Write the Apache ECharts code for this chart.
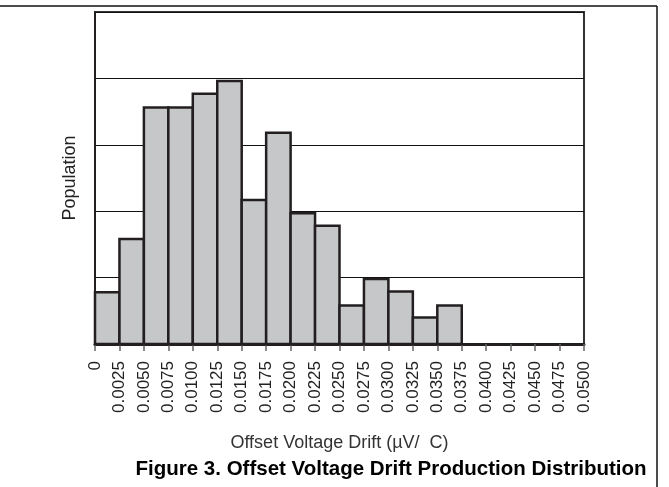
<!DOCTYPE html>
<html>
<head>
<meta charset="utf-8">
<script src="https://cdn.jsdelivr.net/npm/echarts@6/dist/echarts.min.js"></script>
<style>html,body{margin:0;padding:0;background:#fff;}#c{width:669px;height:487px;}</style>
</head>
<body>
<div id="c"></div>
<script>
// Bin edge tick labels (µV/°C)
var tickLabels = ['0','0.0025','0.0050','0.0075','0.0100','0.0125','0.0150','0.0175','0.0200','0.0225',
  '0.0250','0.0275','0.0300','0.0325','0.0350','0.0375','0.0400','0.0425','0.0450','0.0475','0.0500'];
// Population per bin (relative units, one grid division = 1)
var population = [0.78,1.58,3.56,3.56,3.77,3.96,2.17,3.18,1.97,1.78,0.58,0.98,0.79,0.40,0.58,0,0,0,0,0];
var xTitle = 'Offset Voltage Drift (\u00b5V/\u00a0\u00a0C)';
var yTitle = 'Population';
var caption = 'Figure 3. Offset Voltage Drift Production Distribution';

var chart = echarts.init(document.getElementById('c'));
var barData = population.map(function (v, i) { return [i, v]; });
var font = 'Liberation Sans, Arial, Helvetica, sans-serif';

chart.setOption({
  animation: false,
  grid: { left: 95, right: 85, top: 12, bottom: 143, show: true, borderColor: '#333', borderWidth: 2, backgroundColor: 'transparent' },
  xAxis: {
    type: 'value', min: 0, max: 20, interval: 1,
    name: xTitle, nameLocation: 'middle', nameGap: 90,
    nameTextStyle: { fontFamily: font, fontSize: 18, color: '#333' },
    axisLine: { show: true, lineStyle: { color: '#231f20', width: 3 } },
    axisTick: { show: true, length: 7, inside: false, lineStyle: { color: '#666', width: 1.5 } },
    axisLabel: { rotate: 90, margin: 17, fontFamily: font, fontSize: 17, color: '#222',
      formatter: function (v) { return tickLabels[Math.round(v)]; } },
    splitLine: { show: false }
  },
  yAxis: {
    type: 'value', min: 0, max: 5, interval: 1,
    name: yTitle, nameLocation: 'middle', nameGap: 16,
    nameTextStyle: { fontFamily: font, fontSize: 18, color: '#222' },
    axisLine: { show: true, lineStyle: { color: '#231f20', width: 2 } },
    axisTick: { show: false }, axisLabel: { show: false },
    splitLine: { show: true, lineStyle: { color: '#111', width: 1 } }
  },
  series: [{
    type: 'custom',
    data: barData,
    renderItem: function (params, api) {
      var i = api.value(0), v = api.value(1);
      if (!(v > 0)) return null;
      var p0 = api.coord([i, v]);
      var p1 = api.coord([i + 1, 0]);
      return {
        type: 'rect',
        shape: { x: p0[0], y: p0[1], width: p1[0] - p0[0], height: p1[1] - p0[1] },
        style: { fill: '#c6c7c9', stroke: '#231f20', lineWidth: 2.5 }
      };
    },
    z: 3
  }],
  graphic: [
    { type: 'line', shape: { x1: 0, y1: 6, x2: 657, y2: 6 }, style: { stroke: '#111', lineWidth: 1.5 }, z: 10 },
    { type: 'line', shape: { x1: 657, y1: 6, x2: 657, y2: 487 }, style: { stroke: '#111', lineWidth: 1.5 }, z: 10 },
    { type: 'text', x: 391, y: 469, style: { text: caption, fontFamily: font, fontSize: 20.5, fontWeight: 'bold', fill: '#000', textAlign: 'center', textVerticalAlign: 'middle' }, z: 10 }
  ]
});
</script>
</body>
</html>
